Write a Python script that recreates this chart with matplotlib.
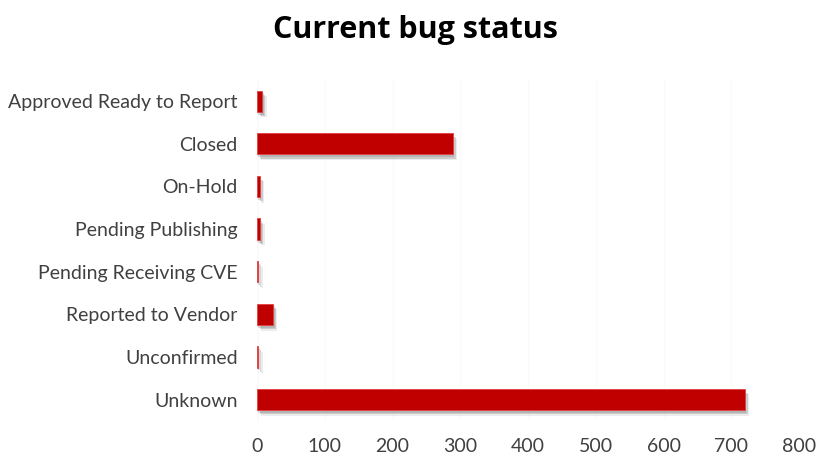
import matplotlib
matplotlib.use('Agg')
import matplotlib.pyplot as plt
import matplotlib.patheffects as pe

categories = ['Approved Ready to Report', 'Closed', 'On-Hold', 'Pending Publishing',
              'Pending Receiving CVE', 'Reported to Vendor', 'Unconfirmed', 'Unknown']
counts = [8, 289, 4, 5, 2, 24, 2, 720]
x_ticks = [0, 100, 200, 300, 400, 500, 600, 700, 800]

plt.rcParams['font.family'] = ['Lato', 'DejaVu Sans']

fig = plt.figure(figsize=(8.17, 4.54), dpi=100)
ax = fig.add_axes([0.3146, 0.073, 0.6634, 0.751])

pos = list(range(len(categories)))
bars = ax.barh(pos, counts, height=0.5, color='#C00000', edgecolor='#e04040', linewidth=0.6, zorder=3)
for b in bars:
    # soft drop shadow, a few stacked layers
    b.set_path_effects([pe.SimplePatchShadow(offset=(3, -4), shadow_rgbFace='#a0a0a0', alpha=0.2),
                        pe.SimplePatchShadow(offset=(2, -3), shadow_rgbFace='#808080', alpha=0.3),
                        pe.SimplePatchShadow(offset=(1, -2), shadow_rgbFace='#808080', alpha=0.3),
                        pe.Normal()])

ax.set_ylim(len(categories) - 0.5, -0.5)
ax.set_xlim(0, 800)
ax.set_yticks(pos)
ax.set_yticklabels(categories)
ax.set_xticks(x_ticks)

ax.tick_params(axis='y', length=0, pad=14, labelsize=14, labelcolor='#404040')
ax.tick_params(axis='x', length=0, pad=12, labelsize=14, labelcolor='#404040')

for s in ax.spines.values():
    s.set_visible(False)
ax.axvline(0, color='#f0f0f0', linewidth=1, zorder=1)
ax.grid(axis='x', color='#fafafa', linewidth=1, zorder=0)

fig.text(0.509, 0.935, 'Current bug status', ha='center', va='center',
         fontsize=22, fontweight='bold', color='#000000', family=['Open Sans', 'DejaVu Sans'])

fig.savefig('out.png', dpi=100)
